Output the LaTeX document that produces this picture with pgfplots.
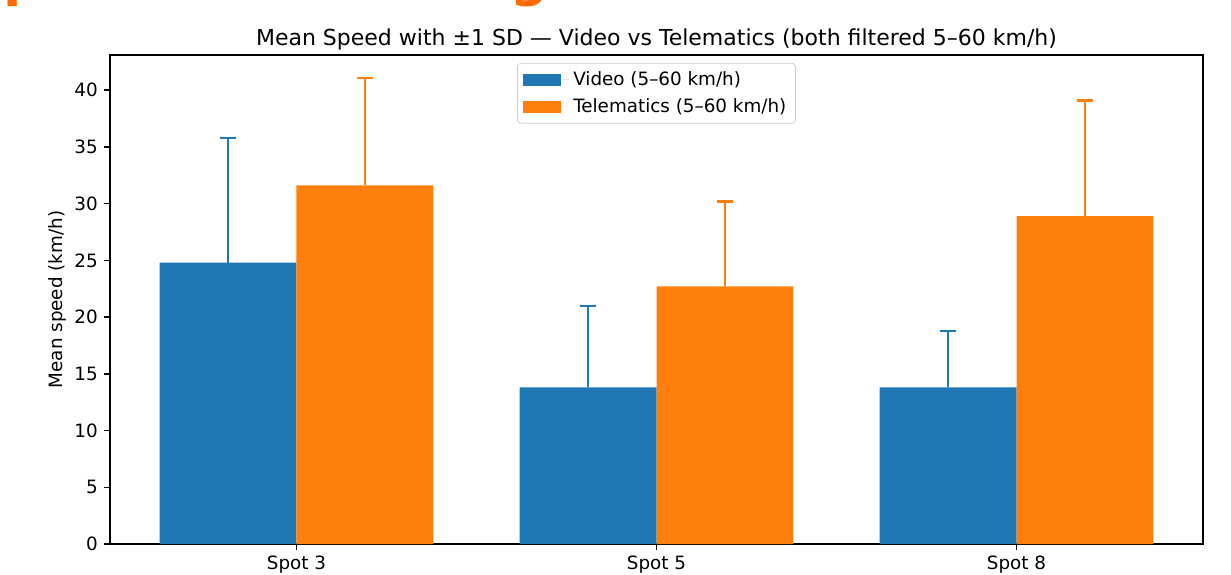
\documentclass[border=0pt]{standalone}
\usepackage{fontspec}
\setmainfont{DejaVu Sans}
\usepackage{pgfplots}
\pgfplotsset{compat=1.18}
\definecolor{cA}{HTML}{1F77B4}
\definecolor{cB}{HTML}{FF7F0E}
\definecolor{hd}{HTML}{FF6B00}
\pgfplotsset{mylegend/.style={legend image code/.code={\fill[##1, sharp corners] (0pt,-3.6pt) rectangle (22.5pt,3.6pt); \path (22.5pt,0pt) -- (28pt,0pt);}}}
\begin{document}
\begin{tikzpicture}
\useasboundingbox (0pt,0pt) rectangle (738.6pt,-345pt);
\node[anchor=base west, inner sep=0pt, text=hd, font=\fontsize{32}{32}\selectfont\bfseries] at (2pt,2.5pt) {p};
\node[anchor=base west, inner sep=0pt, text=hd, font=\fontsize{32}{32}\selectfont\bfseries] at (306pt,2.5pt) {g};
\begin{axis}[
  at={(66pt,-326.4pt)}, anchor=south west,
  scale only axis, width=655.8pt, height=293.4pt,
  xmin=-0.518, xmax=2.518, ymin=0, ymax=43.1,
  xtick={0,1,2}, xticklabels={Spot 3,Spot 5,Spot 8},
  ytick={0,5,...,40},
  xtick pos=bottom, ytick pos=left,
  tick align=outside, major tick length=3.8pt,
  tick style={black, line width=0.85pt},
  axis line style={line width=0.85pt},
  tick label style={font=\fontsize{11}{13}\selectfont},
  /pgf/number format/assume math mode=true,
  ylabel={Mean speed (km/h)},
  ylabel style={font=\fontsize{11}{13}\selectfont, at={(axis description cs:-0.0485,0.5)}, anchor=center},
  title={Mean Speed with ±1 SD — Video vs Telematics (both filtered 5–60 km/h)},
  title style={font=\fontsize{13.2}{15}\selectfont, at={(axis description cs:0.5,1)}, anchor=base, yshift=0pt, inner sep=0pt},
  legend style={at={(axis description cs:0.5,1)}, anchor=north, yshift=-4.8pt, draw=black!20, rounded corners=2pt, fill=white, font=\fontsize{11}{13}\selectfont, inner xsep=3.5pt, inner ysep=3pt, row sep=2.2pt},
  legend cell align=left,
]
\addplot[ybar, bar width=0.38, bar shift=0pt, fill=cA, draw=none, mylegend,
  error bars/.cd, y dir=plus, y explicit,
  error bar style={cA, line width=1.5pt},
  error mark options={cA, line width=1.4pt, mark size=4.7pt, rotate=90}]
  coordinates {(-0.19,24.8) +- (0,11.0) (0.81,13.8) +- (0,7.2) (1.81,13.8) +- (0,5.0)};
\addlegendentry{Video (5–60 km/h)}
\addplot[ybar, bar width=0.38, bar shift=0pt, fill=cB, draw=none, mylegend,
  error bars/.cd, y dir=plus, y explicit,
  error bar style={cB, line width=1.5pt},
  error mark options={cB, line width=1.4pt, mark size=4.7pt, rotate=90}]
  coordinates {(0.19,31.6) +- (0,9.5) (1.19,22.7) +- (0,7.5) (2.19,28.9) +- (0,10.2)};
\addlegendentry{Telematics (5–60 km/h)}
\end{axis}
\end{tikzpicture}
\end{document}
